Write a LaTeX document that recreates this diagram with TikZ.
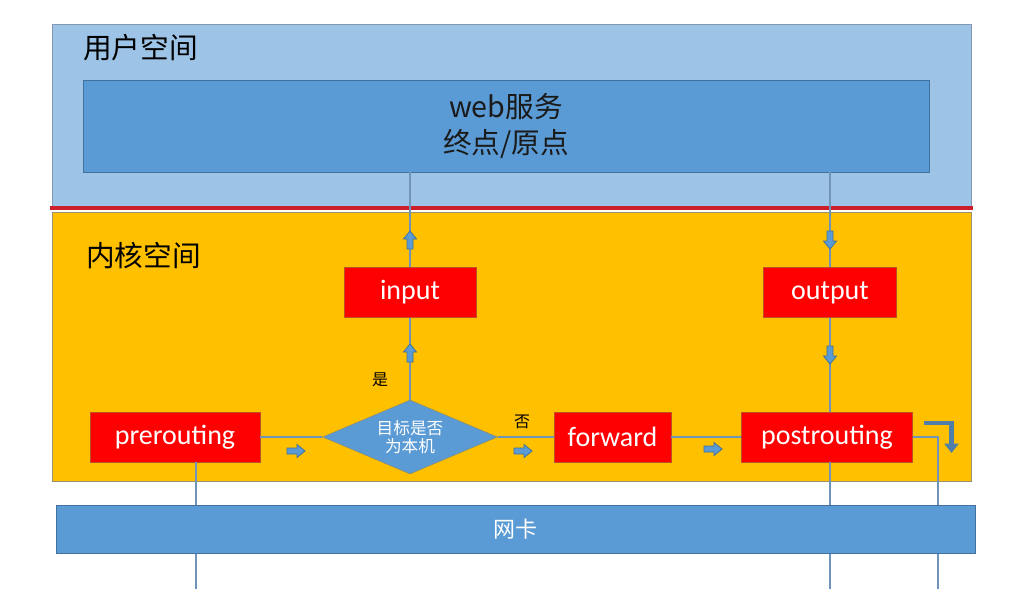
\documentclass[tikz,border=0pt]{standalone}
\usepackage{fontspec}
\usepackage{tikz}
\usetikzlibrary{shapes.geometric,arrows.meta}
\newfontfamily\cjk{Noto Sans CJK SC}
\newfontfamily\boxfont{Carlito}
\definecolor{userblue}{HTML}{9DC3E6}
\definecolor{useredge}{HTML}{8497B0}
\definecolor{kernyellow}{HTML}{FFC000}
\definecolor{kernedge}{HTML}{9A9270}
\definecolor{webblue}{HTML}{5B9BD5}
\definecolor{bandedge}{HTML}{41719C}
\definecolor{hookred}{HTML}{FF0000}
\definecolor{hookedge}{RGB}{190,80,40}
\definecolor{diaedge}{HTML}{8C8C6E}
\definecolor{redline}{HTML}{CC1F2A}
\definecolor{linkblue}{HTML}{6F94B8}
\definecolor{bentblue}{HTML}{4F7FA8}
\definecolor{textdark}{HTML}{1A1A1A}
\begin{document}
\begin{tikzpicture}[x=0.75pt, y=-0.75pt,
	hook/.style = {shape=rectangle, draw=hookedge, fill=hookred, text=white, font=\boxfont\fontsize{21}{25}\selectfont, minimum height=37.5pt, inner sep=0pt},
	decide/.style = {shape=diamond, draw=diaedge, fill=webblue, text=white, align=center, font=\cjk\fontsize{12.5}{13.5}\selectfont, minimum width=131pt, minimum height=55.5pt, aspect=2.36, inner sep=0pt},
	band/.style = {shape=rectangle, draw=bandedge, fill=webblue, align=center, inner sep=0pt},
	title/.style = {anchor=west, inner sep=0pt, font=\cjk\fontsize{21.5}{25}\selectfont},
	link/.style = {draw=linkblue, line width=0.9pt},
	blockarrow/.pic = {\draw[draw=bandedge, fill=webblue, line width=0.6pt] (-9,-3) -- (1,-3) -- (1,-6.5) -- (9,0) -- (1,6.5) -- (1,3) -- (-9,3) -- cycle;}]
	\useasboundingbox (0,0) rectangle (1020,589);
	\fill[white] (0,0) rectangle (1020,589);
	% user space and kernel space
	\draw[draw=useredge, fill=userblue] (52,24) rectangle (971,207);
	\draw[draw=kernedge, fill=kernyellow] (52,212) rectangle (971,481);
	\draw[draw=redline, line width=3pt] (50,208) -- (973,208);
	\node[title] (user) at (83,48) {用户空间};
	\node[title] (kernel) at (86,256) {内核空间};
	\node[band, minimum width=634.5pt, minimum height=69pt, text=textdark, font=\cjk\fontsize{21.5}{27}\selectfont] (web) at (506,126) {web服务\\终点/原点};
	% hooks
	\node[hook, minimum width=99pt] (input) at (410,292.5) {input};
	\node[hook, minimum width=99.75pt] (output) at (830,292.5) {output};
	\node[hook, minimum width=127.5pt] (prerouting) at (175,437) {prerouting};
	\node[decide] (target) at (410,437) {目标是否\\为本机};
	\node[hook, minimum width=87.75pt] (forward) at (612.5,437) {forward};
	\node[hook, minimum width=128.25pt] (postrouting) at (827,437) {postrouting};
	\node[font=\cjk\fontsize{12}{14}\selectfont] (yes) at (380,380) {是};
	\node[font=\cjk\fontsize{12}{14}\selectfont] (no) at (522,422) {否};
	\coordinate (preout) at (196,589);
	\coordinate (postout) at (830,589);
	\coordinate (nicout) at (938,589);
	% connectors
	\draw[link] (target) -- (input);
	\draw[link] (input) -- (input |- web.south);
	\draw[link] (output |- web.south) -- (output);
	\draw[link] (output) -- (output |- postrouting.north);
	\draw[link] (prerouting) -- (target);
	\draw[link] (target) -- (forward);
	\draw[link] (forward) -- (postrouting);
	\draw[link] (prerouting.south -| preout) -- (preout);
	\draw[link] (postrouting.south -| postout) -- (postout);
	\draw[link] (postrouting) -| (nicout);
	% network card
	\node[band, minimum width=689.25pt, minimum height=36pt, text=white, font=\cjk\fontsize{16.5}{18}\selectfont] (nic) at (515.5,529) {网卡};
	% block arrows
	\pic[rotate=90] at (410,240) {blockarrow};
	\pic[rotate=90] at (410,353) {blockarrow};
	\pic[rotate=-90] at (830,240) {blockarrow};
	\pic[rotate=-90] at (830,355) {blockarrow};
	\pic at (296,451) {blockarrow};
	\pic at (523,451) {blockarrow};
	\pic at (713,449) {blockarrow};
	\draw[draw=bentblue, line width=3.5pt, line join=miter, -{Triangle[width=10.5pt,length=7pt]}] (924,423) -- (951.5,423) -- (951.5,453);
\end{tikzpicture}
\end{document}
